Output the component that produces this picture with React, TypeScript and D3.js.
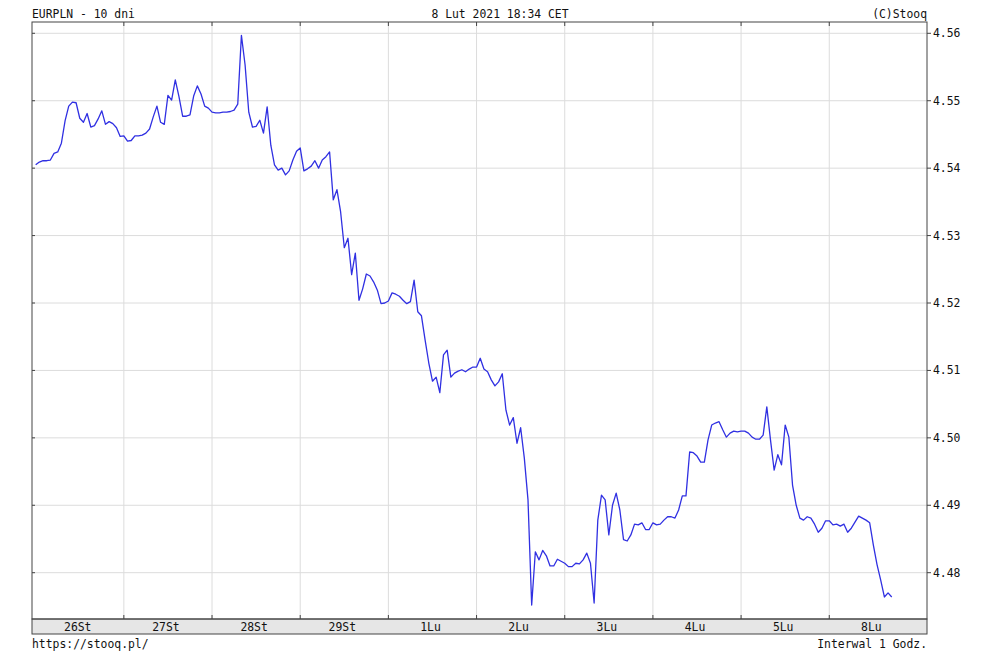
import React from "react";
import * as d3 from "d3";

// Hourly EUR/PLN close values, one array per trading day
const day26St = [4.5405, 4.5409, 4.5411, 4.5411, 4.5412, 4.5422, 4.5424, 4.5437, 4.547, 4.5492, 4.5498, 4.5497, 4.5474, 4.5468, 4.5481, 4.5461, 4.5463, 4.5473, 4.5485, 4.5465, 4.5469, 4.5466, 4.546, 4.5447];
const day27St = [4.5448, 4.544, 4.5441, 4.5448, 4.5448, 4.5449, 4.5452, 4.5458, 4.5476, 4.5492, 4.5468, 4.5465, 4.5508, 4.5501, 4.5531, 4.5506, 4.5477, 4.5477, 4.5479, 4.5507, 4.5522, 4.551, 4.5492, 4.5489];
const day28St = [4.5483, 4.5482, 4.5482, 4.5483, 4.5483, 4.5484, 4.5486, 4.5495, 4.5597, 4.5553, 4.5483, 4.5461, 4.5462, 4.5471, 4.5452, 4.5491, 4.5434, 4.5405, 4.5397, 4.54, 4.539, 4.5396, 4.5412, 4.5425];
const day29St = [4.543, 4.5396, 4.5399, 4.5403, 4.5411, 4.54, 4.5412, 4.5417, 4.5424, 4.5353, 4.5368, 4.5335, 4.5282, 4.5296, 4.5242, 4.5274, 4.5204, 4.5221, 4.5243, 4.524, 4.5231, 4.5219, 4.5199, 4.52];
const day1Lu = [4.5203, 4.5215, 4.5213, 4.521, 4.5204, 4.5199, 4.5202, 4.5234, 4.5187, 4.5181, 4.5145, 4.5111, 4.5084, 4.509, 4.5067, 4.5123, 4.513, 4.509, 4.5096, 4.5099, 4.5101, 4.5098, 4.5102, 4.5105];
const day2Lu = [4.5105, 4.5118, 4.5102, 4.5098, 4.5086, 4.5077, 4.5083, 4.5095, 4.5041, 4.5019, 4.503, 4.4992, 4.5015, 4.497, 4.4908, 4.4752, 4.4831, 4.4819, 4.4833, 4.4825, 4.481, 4.481, 4.482, 4.4817];
const day3Lu = [4.4814, 4.4809, 4.4809, 4.4814, 4.4813, 4.4819, 4.4829, 4.4814, 4.4755, 4.4878, 4.4915, 4.4908, 4.4856, 4.49, 4.4918, 4.4893, 4.4849, 4.4847, 4.4856, 4.4872, 4.4871, 4.4874, 4.4864, 4.4864];
const day4Lu = [4.4874, 4.4871, 4.4872, 4.4878, 4.4883, 4.4883, 4.4881, 4.4893, 4.4914, 4.4914, 4.4979, 4.4978, 4.4973, 4.4964, 4.4964, 4.4997, 4.5019, 4.5022, 4.5024, 4.5012, 4.5001, 4.5007, 4.501, 4.5009];
const day5Lu = [4.501, 4.501, 4.5007, 4.5001, 4.4998, 4.4998, 4.5004, 4.5046, 4.4997, 4.4952, 4.4975, 4.496, 4.5019, 4.5001, 4.493, 4.49, 4.4881, 4.4878, 4.4883, 4.4881, 4.4872, 4.486, 4.4866, 4.4877];
const day8Lu = [4.4877, 4.4871, 4.4872, 4.4869, 4.4872, 4.486, 4.4866, 4.4875, 4.4884, 4.4881, 4.4878, 4.4874, 4.4841, 4.4812, 4.4789, 4.4764, 4.477, 4.4764];

const dayLabels = ["26St", "27St", "28St", "29St", "1Lu", "2Lu", "3Lu", "4Lu", "5Lu", "8Lu"];
const yTicks = [4.48, 4.49, 4.5, 4.51, 4.52, 4.53, 4.54, 4.55, 4.56];
const HOURS_PER_DAY = 24;

const titleText = "EURPLN - 10 dni";
const dateText = "8 Lut 2021 18:34 CET";
const copyText = "(C)Stooq";
const urlText = "https://stooq.pl/";
const intervalText = "Interwal 1 Godz.";

const W = 1000;
const H = 663;
const L = 32;
const R = 927;
const T = 22;
const B = 619;
const BAND_B = 634;
const FONT = "'DejaVu Sans Mono', monospace";
const FS = 11.4;

export default function App() {
  const series = [day26St, day27St, day28St, day29St, day1Lu, day2Lu, day3Lu, day4Lu, day5Lu, day8Lu].flat();
  const x = d3.scaleLinear().domain([-1, 242.6]).range([L, R]);
  const y = d3.scaleLinear().domain([4.48, 4.56]).range([572.7, 33.3]);
  const line = d3
    .line<number>()
    .x((_, i) => x(i))
    .y((d) => y(d));
  const boundaries = dayLabels.slice(1).map((_, k) => x((k + 1) * HOURS_PER_DAY));
  const gridColor = "#dcdcdc";
  const frameColor = "#444";
  const textColor = "#111";

  return (
    <svg
      width={W}
      height={H}
      style={{ position: "absolute", left: 0, top: 0, background: "#fff" }}
      fontFamily={FONT}
      fontSize={FS}
    >
      <rect x={0} y={0} width={W} height={H} fill="#fff" />
      {/* grid */}
      {yTicks.map((t) => (
        <line key={"gy" + t} x1={L} x2={R} y1={y(t)} y2={y(t)} stroke={gridColor} strokeWidth={1} />
      ))}
      {boundaries.map((bx, k) => (
        <line key={"gx" + k} x1={bx} x2={bx} y1={T} y2={B} stroke={gridColor} strokeWidth={1} />
      ))}
      {/* series */}
      <path d={line(series) || ""} fill="none" stroke="#3030e2" strokeWidth={1.3} strokeLinejoin="round" />
      {/* label band */}
      <rect x={L} y={B} width={R - L} height={BAND_B - B} fill="#e6e6e6" stroke={frameColor} strokeWidth={1} />
      {/* frame */}
      <rect x={L} y={T} width={R - L} height={B - T} fill="none" stroke={frameColor} strokeWidth={1} />
      {/* ticks */}
      {boundaries.map((bx, k) => (
        <g key={"tx" + k} stroke={frameColor} strokeWidth={1}>
          <line x1={bx} x2={bx} y1={T} y2={T + 4} />
          <line x1={bx} x2={bx} y1={B - 4} y2={B} />
        </g>
      ))}
      {yTicks.map((t) => (
        <g key={"ty" + t} stroke={frameColor} strokeWidth={1}>
          <line x1={L} x2={L + 3} y1={y(t)} y2={y(t)} />
          <line x1={R} x2={R + 4} y1={y(t)} y2={y(t)} />
        </g>
      ))}
      {/* y labels */}
      {yTicks.map((t) => (
        <text key={"yl" + t} x={R + 6} y={y(t) + 4} fill={textColor}>
          {d3.format(".2f")(t)}
        </text>
      ))}
      {/* x labels */}
      {dayLabels.map((lab, k) => (
        <text key={"xl" + k} x={x(k * HOURS_PER_DAY + 12) - 2} y={631} textAnchor="middle" fill={textColor}>
          {lab}
        </text>
      ))}
      {/* header / footer */}
      <text x={L} y={17.5} fill={textColor}>{titleText}</text>
      <text x={500} y={17.5} textAnchor="middle" fill={textColor}>{dateText}</text>
      <text x={R} y={17.5} textAnchor="end" fill={textColor}>{copyText}</text>
      <text x={L} y={648} fill={textColor}>{urlText}</text>
      <text x={R} y={648} textAnchor="end" fill={textColor}>{intervalText}</text>
    </svg>
  );
}
